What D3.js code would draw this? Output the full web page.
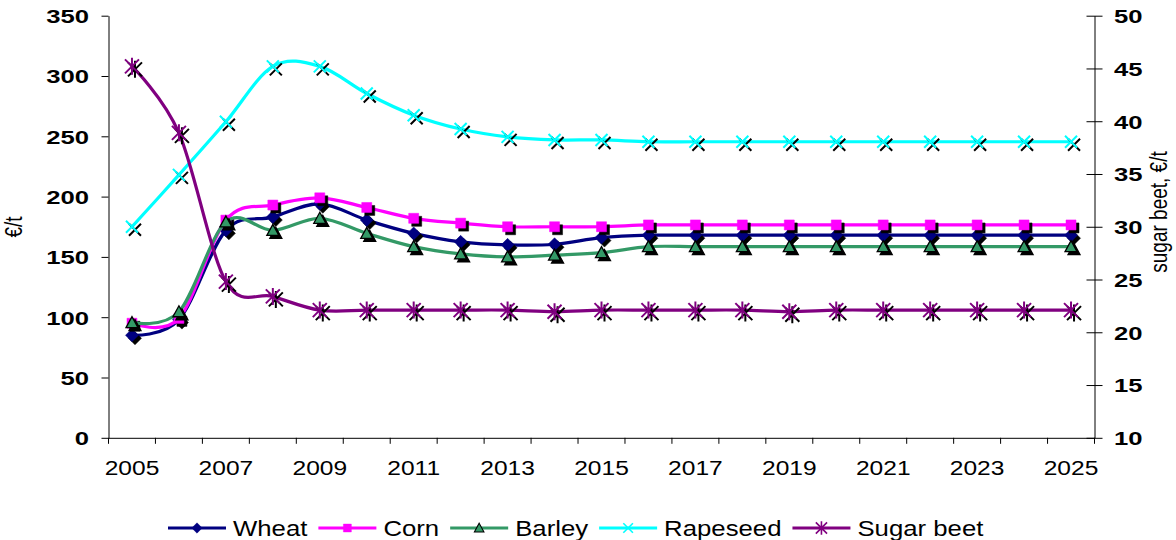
<!DOCTYPE html>
<html><head><meta charset="utf-8">
<script src="https://cdn.jsdelivr.net/npm/d3@7"></script>
<style>
body{margin:0;background:#fff}
svg{display:block}
text{font-family:"Liberation Sans",Arial,sans-serif;fill:#000}
</style>
</head><body>
<svg id="c" width="1176" height="540"></svg>
<script>
// ---------- data ----------
const years = [2005,2006,2007,2008,2009,2010,2011,2012,2013,2014,2015,2016,2017,2018,2019,2020,2021,2022,2023,2024,2025];
const xTickLabels = [2005,2007,2009,2011,2013,2015,2017,2019,2021,2023,2025];
const leftTicks = [0,50,100,150,200,250,300,350];
const rightTicks = [10,15,20,25,30,35,40,45,50];
const wheat    = [85, 98, 172, 183, 194, 180.5, 169.5, 162.5, 160, 160.5, 166, 168, 168, 168, 168, 168, 168, 168, 168, 168, 168];
const corn     = [95, 99, 180.5, 193, 199, 191, 182, 178, 175, 175, 175, 176.5, 176.5, 176.5, 176.5, 176.5, 176.5, 176.5, 176.5, 176.5, 176.5];
const barley   = [95.5, 104.5, 179, 172, 182, 169.5, 158.5, 152.5, 150, 151.5, 153.5, 158.5, 158.5, 158.5, 158.5, 158.5, 158.5, 158.5, 158.5, 158.5, 158.5];
const rapeseed = [175, 218, 262, 308, 308, 285.5, 267.5, 256, 249.5, 247, 247, 245.5, 245.5, 245.5, 245.5, 245.5, 245.5, 245.5, 245.5, 245.5, 245.5];
const sugarBeet= [45.2, 38.9, 24.8, 23.4, 22.1, 22.1, 22.1, 22.1, 22.1, 21.95, 22.1, 22.1, 22.1, 22.1, 21.95, 22.1, 22.1, 22.1, 22.1, 22.1, 22.1];
const seriesNames = ["Wheat","Corn","Barley","Rapeseed","Sugar beet"];
const seriesColors = ["#000080","#FF00FF","#339966","#00FFFF","#800080"];
const seriesAxis = ["L","L","L","L","R"];
const seriesMarkers = ["diamond","square","triangle","x","star"];
const seriesValues = [wheat, corn, barley, rapeseed, sugarBeet];

// ---------- layout ----------
const SX = 1.35;   // horizontal stretch of bold axis labels
const SXN = 1.17;  // horizontal stretch of regular labels
const P = {left:108.5, right:1094.5, top:15.7, bottom:437.8};
const svg = d3.select("#c");

const x = d3.scaleBand().domain(years).range([P.left, P.right]).padding(0);
const cx = d => x(d) + x.bandwidth()/2;
const yL = d3.scaleLinear().domain([0,350]).range([P.bottom, P.top]);
const yR = d3.scaleLinear().domain([10,50]).range([P.bottom, P.top]);

// ---------- axes ----------
const gL = svg.append("g").attr("transform",`translate(${P.left},0)`)
  .call(d3.axisLeft(yL).tickValues(leftTicks).tickSize(7).tickSizeOuter(0));
gL.selectAll("text").attr("x",null).attr("dy","0.36em")
  .attr("text-anchor","end").attr("font-size",19).attr("font-weight","bold")
  .attr("font-family",'"Liberation Sans",Arial,sans-serif')
  .attr("transform",`translate(-19.5,0) scale(${SX},1)`);

const gR = svg.append("g").attr("transform",`translate(${P.right},0)`)
  .call(d3.axisRight(yR).tickValues(rightTicks).tickSize(8).tickSizeOuter(0));
gR.selectAll(".tick line").attr("x1",-8).attr("x2",8);
gR.selectAll("text").attr("x",null).attr("dy","0.36em")
  .attr("text-anchor","start").attr("font-size",19).attr("font-weight","bold")
  .attr("font-family",'"Liberation Sans",Arial,sans-serif')
  .attr("transform",`translate(19.5,0) scale(${SX},1)`);

const gX = svg.append("g").attr("transform",`translate(0,${P.bottom})`)
  .call(d3.axisBottom(x).tickValues(xTickLabels).tickSize(0).tickSizeOuter(0));
gX.selectAll(".tick text").attr("y",37.5).attr("dy",null)
  .attr("font-size",21).attr("font-weight","normal")
  .attr("font-family",'"Liberation Sans",Arial,sans-serif')
  .attr("transform",`scale(${SXN},1)`);
// boundary ticks between categories
const bounds = years.map(d => x(d)).concat([x.range()[1]]);
gX.selectAll("line.bt").data(bounds).join("line").attr("class","bt")
  .attr("x1",d=>d).attr("x2",d=>d).attr("y1",0).attr("y2",6)
  .attr("stroke","#000").attr("stroke-width",1);
svg.selectAll(".domain").attr("stroke","#000").attr("stroke-width",1);
svg.selectAll(".tick line").attr("stroke","#000").attr("stroke-width",1);

// axis titles
svg.append("text").attr("transform",`translate(14,227) scale(1.25,1) rotate(-90)`)
  .attr("text-anchor","middle").attr("dy","0.35em").attr("font-size",19).text("€/t");
svg.append("text").attr("transform",`translate(1159,212) scale(1.25,1) rotate(-90)`)
  .attr("text-anchor","middle").attr("dy","0.35em").attr("font-size",19).text("sugar beet, €/t");

// ---------- markers ----------
function markerPath(type){
  switch(type){
    case "diamond": return "M0,-6.5L6.5,0L0,6.5L-6.5,0Z";
    case "square": return "M-5,-5H5V5H-5Z";
    case "triangle": return "M0,-6L6,5L-6,5Z";
    case "x": return "M-6,-6L6,6M-6,6L6,-6";
    case "star": return "M-7,-7L7,7M-7,7L7,-7M0,-8.5V8.5";
  }
}
function drawMarker(g, type, color, shadow){
  const p = g.append("path").attr("d", markerPath(type));
  const stroked = (type==="x"||type==="star");
  if(stroked){
    p.attr("fill","none").attr("stroke", shadow?"#000":color).attr("stroke-width",2);
  } else if(type==="triangle"){
    p.attr("fill", shadow?"#000":color).attr("stroke","#000").attr("stroke-width",1.3);
  } else {
    p.attr("fill", shadow?"#000":color).attr("stroke", shadow?"#000":color).attr("stroke-width",0.5);
  }
}

// ---------- series ----------
seriesValues.forEach((vals, si) => {
  const ys = seriesAxis[si]==="L" ? yL : yR;
  const data = years.map((yr,i)=>({yr, v: vals[i]}));
  const line = d3.line().x(d=>cx(d.yr)).y(d=>ys(d.v)).curve(d3.curveCardinal.tension(0));
  const g = svg.append("g");
  g.append("path").datum(data).attr("d", line).attr("fill","none")
    .attr("stroke", seriesColors[si]).attr("stroke-width",3.2)
    .attr("stroke-linejoin","round").attr("stroke-linecap","round");
  data.forEach(d => {
    const ms = g.append("g").attr("transform",`translate(${cx(d.yr)+3},${ys(d.v)+3})`);
    drawMarker(ms, seriesMarkers[si], seriesColors[si], true);
  });
  data.forEach(d => {
    const m = g.append("g").attr("transform",`translate(${cx(d.yr)},${ys(d.v)})`);
    drawMarker(m, seriesMarkers[si], seriesColors[si], false);
  });
});

// ---------- legend ----------
const legY = 528;
let lx = 168;
const leg = svg.append("g");
seriesNames.forEach((name, si) => {
  leg.append("line").attr("x1",lx).attr("x2",lx+58).attr("y1",legY).attr("y2",legY)
    .attr("stroke",seriesColors[si]).attr("stroke-width",3.2);
  const m = leg.append("g").attr("transform",`translate(${lx+29},${legY}) scale(0.8)`);
  drawMarker(m, seriesMarkers[si], seriesColors[si], false);
  const t = leg.append("text").attr("transform",`translate(${lx+65},${legY}) scale(${SXN},1)`)
    .attr("dy","0.36em").attr("font-size",22).text(name);
  const w = t.node().getComputedTextLength()*SXN;
  lx += 65 + w + 11;
});
</script>
</body></html>
